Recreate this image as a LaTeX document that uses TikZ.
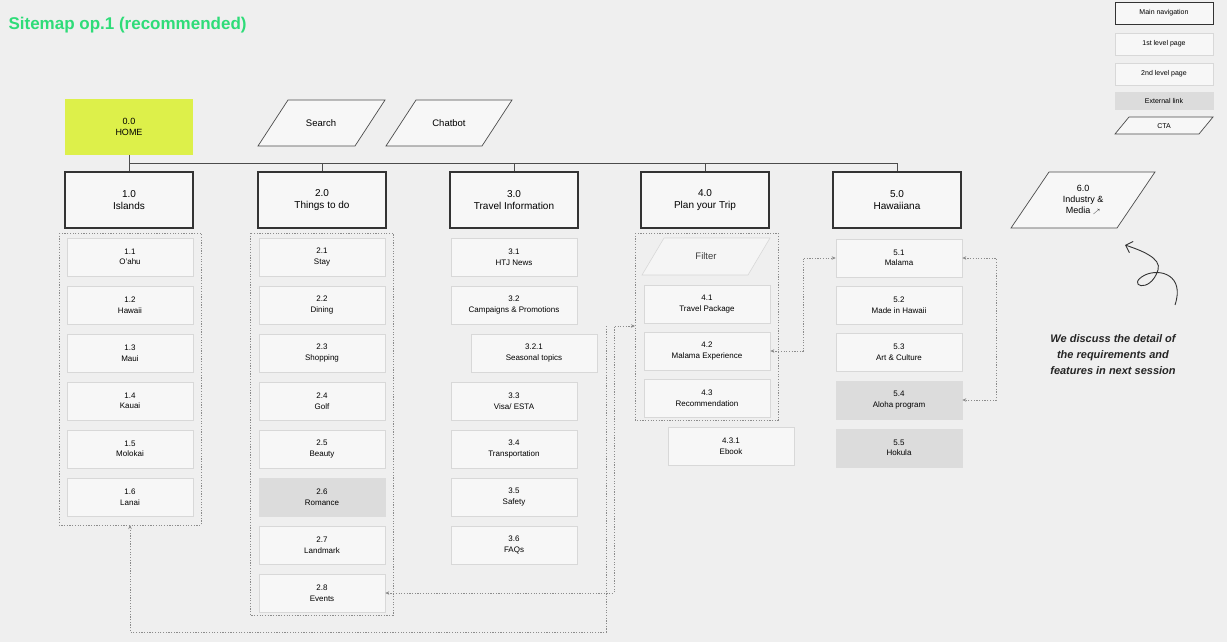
\documentclass[tikz,border=0pt]{standalone}
\usepackage{fontspec}
\setmainfont{Liberation Sans}
\usetikzlibrary{arrows.meta}
\definecolor{bg}{HTML}{EFEFEF}
\definecolor{lime}{HTML}{DDF04A}
\definecolor{ttl}{HTML}{2EDC78}
\definecolor{subf}{HTML}{F7F7F7}
\definecolor{subd}{HTML}{D8D8D8}
\definecolor{extf}{HTML}{DCDCDC}
\tikzset{
 mainbox/.style={draw=black!80,line width=1.1pt,fill=subf,minimum width=128pt,minimum height=56pt,align=center,font=\fontsize{10}{12}\selectfont,inner sep=0pt},
 sub/.style={draw=subd,line width=0.6pt,fill=subf,minimum width=126pt,minimum height=38pt,align=center,font=\fontsize{8}{10.5}\selectfont,inner sep=0pt},
 ext/.style={sub,fill=extf,draw=extf},
 grp/.style={draw=black!45,dash pattern=on 1.2pt off 1.5pt,line width=0.7pt},
 link/.style={draw=black!45,dash pattern=on 1.2pt off 1.5pt,line width=0.7pt,-{Stealth[length=4pt,width=3.5pt]}},
 bus/.style={draw=black!70,line width=0.8pt},
 para/.style={draw=black!70,line width=0.7pt,fill=subf},
}
\newcommand\sbx[5][sub]{\node[#1] (#2) at (#3) {#4\\#5};}
\begin{document}
\begin{tikzpicture}[x=1pt,y=-1pt]
\fill[bg] (0,0) rectangle (1227,642);
\useasboundingbox (0,0) rectangle (1227,642);
\node[anchor=west,text=ttl,font=\fontsize{17}{20}\selectfont\bfseries] (title) at (5,25) {Sitemap op.1 (recommended)};
% legend
\node[mainbox,minimum width=98pt,minimum height=22pt,line width=0.8pt,font=\fontsize{7}{8}\selectfont] (lg1) at (1164,13) {Main navigation};
\node[sub,minimum width=98pt,minimum height=22pt,font=\fontsize{7}{8}\selectfont] (lg2) at (1164,44) {1st level page};
\node[sub,minimum width=98pt,minimum height=22pt,font=\fontsize{7}{8}\selectfont] (lg3) at (1164,74) {2nd level page};
\node[ext,minimum width=98pt,minimum height=17pt,font=\fontsize{7}{8}\selectfont] (lg4) at (1164,101) {External link};
\path[para] (1129,117)--(1213,117)--(1199,134)--(1115,134)--cycle;
\node[font=\fontsize{7}{8}\selectfont] (lg5) at (1164,126) {CTA};
% home
\node[fill=lime,minimum width=128pt,minimum height=55pt,align=center,font=\fontsize{9}{11}\selectfont,inner sep=0pt] (home) at (129,127) {0.0\\HOME};
\path[para] (288,100)--(385,100)--(355,146)--(258,146)--cycle;
\node[font=\fontsize{9.5}{11}\selectfont] (search) at (321,123) {Search};
\path[para] (416,100)--(512,100)--(482,146)--(386,146)--cycle;
\node[font=\fontsize{9.5}{11}\selectfont] (chatbot) at (449,123) {Chatbot};
% main nav
\node[mainbox] (m1) at (129,200) {1.0\\Islands};
\node[mainbox] (m2) at (322,200) {2.0\\Things to do};
\node[mainbox] (m3) at (514,200) {3.0\\Travel Information};
\node[mainbox] (m4) at (705,200) {4.0\\Plan your Trip};
\node[mainbox] (m5) at (897,200) {5.0\\Hawaiiana};
\coordinate (b0) at (129,163);
\coordinate (b5) at (897,163);
\draw[bus] (home.south) -- (b0) -- (b5);
\foreach \m in {m1,m2,m3,m4,m5} \draw[bus] (\m.north) -- (\m.north |- b0);
\path[para] (1049,172)--(1155,172)--(1117,228)--(1011,228)--cycle;
\node[align=center,font=\fontsize{9}{11}\selectfont] (m6) at (1083,200) {6.0\\Industry \&\\Media \fontsize{6}{6}\selectfont$\nearrow$};
% column 1
\draw[grp] (59,233) rectangle (201,525);
\sbx{s11}{130,257}{1.1}{O'ahu}
\sbx{s12}{130,305}{1.2}{Hawaii}
\sbx{s13}{130,353}{1.3}{Maui}
\sbx{s14}{130,401}{1.4}{Kauai}
\sbx{s15}{130,449}{1.5}{Molokai}
\sbx{s16}{130,497}{1.6}{Lanai}
\coordinate (g1b) at (130,525);
% column 2
\draw[grp] (250,233) rectangle (393,615);
\sbx{s21}{322,257}{2.1}{Stay}
\sbx{s22}{322,305}{2.2}{Dining}
\sbx{s23}{322,353}{2.3}{Shopping}
\sbx{s24}{322,401}{2.4}{Golf}
\sbx{s25}{322,449}{2.5}{Beauty}
\sbx[ext]{s26}{322,497}{2.6}{Romance}
\sbx{s27}{322,545}{2.7}{Landmark}
\sbx{s28}{322,593}{2.8}{Events}
% column 3
\sbx{s31}{514,257}{3.1}{HTJ News}
\sbx{s32}{514,305}{3.2}{Campaigns \& Promotions}
\sbx{s321}{534,353}{3.2.1}{Seasonal topics}
\sbx{s33}{514,401}{3.3}{Visa/ ESTA}
\sbx{s34}{514,449}{3.4}{Transportation}
\sbx{s35}{514,497}{3.5}{Safety}
\sbx{s36}{514,545}{3.6}{FAQs}
% column 4
\draw[grp] (635,233) rectangle (778,420);
\path[draw=subd,fill=bg!60!white,line width=0.6pt] (664,238)--(770,238)--(748,275)--(642,275)--cycle;
\node[font=\fontsize{9.5}{11}\selectfont,text=black!75] (filter) at (706,256) {Filter};
\sbx{s41}{707,304}{4.1}{Travel Package}
\sbx{s42}{707,351}{4.2}{Malama Experience}
\sbx{s43}{707,398}{4.3}{Recommendation}
\sbx{s431}{731,446}{4.3.1}{Ebook}
\coordinate (g4l) at (635,326);
% column 5
\sbx{s51}{899,258}{5.1}{Malama}
\sbx{s52}{899,305}{5.2}{Made in Hawaii}
\sbx{s53}{899,352}{5.3}{Art \& Culture}
\sbx[ext]{s54}{899,400}{5.4}{Aloha program}
\sbx[ext]{s55}{899,448}{5.5}{Hokula}
% links
\draw[link,{Stealth[length=4pt,width=3.5pt]}-{Stealth[length=4pt,width=3.5pt]}] (s28.east) -- (614,593) -- (614,326) -- (g4l);
\draw[link] (606,326) -- (606,632) -- (130,632) -- (g1b);
\draw[link,{Stealth[length=4pt,width=3.5pt]}-{Stealth[length=4pt,width=3.5pt]}] (s42.east) -- (803,351) -- (803,258) -- (s51.west);
\draw[link,{Stealth[length=4pt,width=3.5pt]}-{Stealth[length=4pt,width=3.5pt]}] (s51.east) -- (996,258) -- (996,400) -- (s54.east);
% note
\node[align=center,font=\fontsize{11}{16}\selectfont\bfseries\itshape,text=black!85] (note) at (1113,355) {We discuss the detail of\\the requirements and\\features in next session};
\coordinate (c1) at (1175,305);
\coordinate (c2) at (1125,245);
\draw[black!80,line width=0.9pt,-{Straight Barb[length=6pt]}] (c1) .. controls (1185,275) and (1160,268) .. (1145,275) .. controls (1125,285) and (1150,295) .. (1158,270) .. controls (1162,258) and (1140,250) .. (c2);
\end{tikzpicture}
\end{document}
